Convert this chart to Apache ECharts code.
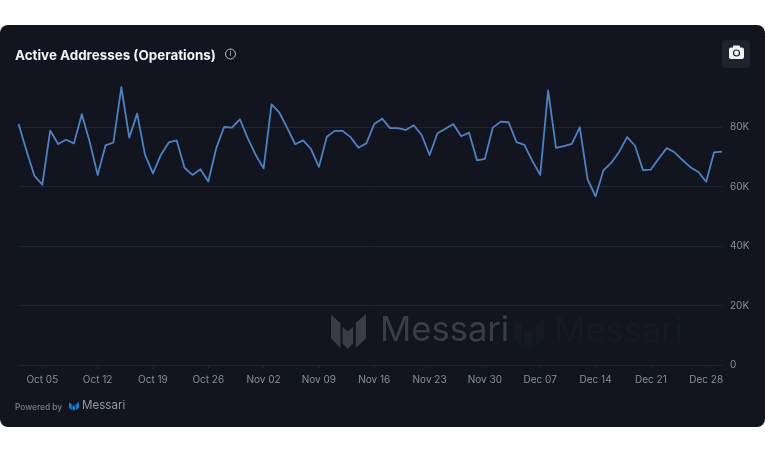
<!DOCTYPE html>
<html>
<head>
<meta charset="utf-8">
<title>Active Addresses (Operations)</title>
<style>
  html, body { margin: 0; padding: 0; background: #fff; }
  #chart { width: 765px; height: 452px; }
</style>
<script src="https://cdn.jsdelivr.net/npm/echarts@6/dist/echarts.min.js"></script>
</head>
<body>
<div id="chart"></div>
<script>
var dates = [
  'Oct 02','Oct 03','Oct 04','Oct 05','Oct 06','Oct 07','Oct 08','Oct 09','Oct 10','Oct 11',
  'Oct 12','Oct 13','Oct 14','Oct 15','Oct 16','Oct 17','Oct 18','Oct 19','Oct 20','Oct 21',
  'Oct 22','Oct 23','Oct 24','Oct 25','Oct 26','Oct 27','Oct 28','Oct 29','Oct 30','Oct 31',
  'Nov 01','Nov 02','Nov 03','Nov 04','Nov 05','Nov 06','Nov 07','Nov 08','Nov 09','Nov 10',
  'Nov 11','Nov 12','Nov 13','Nov 14','Nov 15','Nov 16','Nov 17','Nov 18','Nov 19','Nov 20',
  'Nov 21','Nov 22','Nov 23','Nov 24','Nov 25','Nov 26','Nov 27','Nov 28','Nov 29','Nov 30',
  'Dec 01','Dec 02','Dec 03','Dec 04','Dec 05','Dec 06','Dec 07','Dec 08','Dec 09','Dec 10',
  'Dec 11','Dec 12','Dec 13','Dec 14','Dec 15','Dec 16','Dec 17','Dec 18','Dec 19','Dec 20',
  'Dec 21','Dec 22','Dec 23','Dec 24','Dec 25','Dec 26','Dec 27','Dec 28','Dec 29','Dec 30'
];
var activeAddresses = [
  81000, 72000, 63600, 60600, 78800, 74300, 75700, 74500, 84300, 75000,
  63900, 73800, 74800, 93400, 76400, 84500, 70600, 64400, 70600, 74800,
  75500, 66300, 63900, 65800, 61700, 72800, 80000, 79800, 82600, 76200,
  70600, 66100, 87600, 84800, 79600, 74200, 75500, 72600, 66600, 76700,
  78700, 78700, 76600, 73000, 74500, 81000, 82800, 79600, 79600, 79000,
  80600, 77300, 70600, 77900, 79400, 81000, 76900, 78100, 68800, 69300,
  79800, 81800, 81600, 74900, 74000, 68600, 63900, 92300, 73000, 73600,
  74300, 79900, 62400, 56700, 65400, 68000, 71700, 76600, 73700, 65500,
  65700, 69400, 72900, 71500, 68900, 66500, 64900, 61600, 71500, 71700
];
var yTickStep = 20000;

var cardColor = '#12151f';
var labelFont = 'Inter, "Noto Sans", sans-serif';

// M shaped logo, drawn from three slanted pieces
function logoParts(x, y, w, h, fill) {
  var parts = [
    [[0, 0.02], [0.27, 0.26], [0.27, 0.97], [0, 0.69]],
    [[0.33, 0.37], [0.48, 0.49], [0.63, 0.37], [0.63, 0.84], [0.48, 1], [0.33, 0.84]],
    [[0.71, 0.25], [1, 0], [1, 0.69], [0.71, 0.97]]
  ];
  return parts.map(function (p) {
    return {
      type: 'polygon', silent: true,
      shape: { points: p.map(function (q) { return [x + q[0] * w, y + q[1] * h]; }) },
      style: { fill: fill }
    };
  });
}

var graphics = [
  { type: 'rect', z: -10, silent: true, shape: { x: 0, y: 25, width: 765, height: 402, r: 8 }, style: { fill: cardColor } }
];
graphics = graphics.concat(logoParts(331, 314, 35, 35, '#3a3d47'));
graphics = graphics.concat(logoParts(514, 317, 30, 31, '#161924'));
graphics = graphics.concat([
  { type: 'text', silent: true, x: 380, y: 331, style: { text: 'Messari', fill: '#3a3d47', font: '34.6px ' + labelFont, textVerticalAlign: 'middle' } },
  { type: 'text', silent: true, x: 554, y: 332, style: { text: 'Messari', fill: '#161924', font: '34.6px ' + labelFont, textVerticalAlign: 'middle' } },
  // info icon next to the title
  { type: 'circle', silent: true, shape: { cx: 230.5, cy: 54, r: 5 }, style: { fill: 'none', stroke: '#b9bbc0', lineWidth: 1 } },
  { type: 'text', silent: true, x: 230.5, y: 54, style: { text: 'i', fill: '#b9bbc0', font: '8px ' + labelFont, textAlign: 'center', textVerticalAlign: 'middle' } },
  // camera button
  { type: 'rect', silent: true, shape: { x: 722, y: 40, width: 28, height: 28, r: 4 }, style: { fill: '#1f232d' } },
  { type: 'rect', silent: true, shape: { x: 729, y: 47.5, width: 15, height: 11.5, r: 2 }, style: { fill: '#f2f2f3' } },
  { type: 'rect', silent: true, shape: { x: 733, y: 45.5, width: 7, height: 3, r: 1 }, style: { fill: '#f2f2f3' } },
  { type: 'circle', silent: true, shape: { cx: 736.5, cy: 53, r: 3 }, style: { fill: '#f2f2f3', stroke: '#1f232d', lineWidth: 1.2 } },
  // footer
  { type: 'text', silent: true, x: 15, y: 407.5, style: { text: 'Powered by', fill: '#6f727a', font: '600 8.3px ' + labelFont, textVerticalAlign: 'middle' } },
  { type: 'text', silent: true, x: 82, y: 406, style: { text: 'Messari', fill: '#94979e', font: '11.6px ' + labelFont, textVerticalAlign: 'middle' } }
]);
graphics = graphics.concat(logoParts(69, 402, 10, 8.5, '#1c7ec8'));

var chart = echarts.init(document.getElementById('chart'), null, { renderer: 'canvas' });
chart.setOption({
  animation: false,
  backgroundColor: '#ffffff',
  title: {
    text: 'Active Addresses (Operations)',
    left: 15, top: 47.5, padding: 0,
    textStyle: { color: '#f2f3f5', fontFamily: labelFont, fontSize: 13.4, fontWeight: 700, lineHeight: 16 }
  },
  grid: { left: 18.6, right: 43, top: 67.5, bottom: 87 },
  xAxis: {
    type: 'category',
    data: dates,
    boundaryGap: false,
    axisLine: { lineStyle: { color: '#1d2430' } },
    axisTick: {
      length: 4,
      lineStyle: { color: '#1d2430' },
      interval: function (i) { return i % 7 === 3; }
    },
    axisLabel: {
      color: '#8b8e95', fontFamily: labelFont, fontSize: 10, margin: 10,
      interval: function (i) { return i % 7 === 3; }
    },
    splitLine: { show: false }
  },
  yAxis: {
    type: 'value',
    position: 'right',
    min: 0,
    max: 100000,
    interval: yTickStep,
    axisLine: { show: false },
    axisTick: { show: false },
    axisLabel: {
      color: '#8b8e95', fontFamily: labelFont, fontSize: 10, margin: 8,
      showMaxLabel: false,
      formatter: function (v) { return v === 0 ? '0' : (v / 1000) + 'K'; }
    },
    splitLine: { showMaxLine: false, lineStyle: { color: '#1d2430', width: 1 } }
  },
  series: [{
    type: 'line',
    data: activeAddresses,
    showSymbol: false,
    lineStyle: { color: '#5082c2', width: 1.8, join: 'round' },
    z: 3
  }],
  graphic: graphics
});
</script>
</body>
</html>
